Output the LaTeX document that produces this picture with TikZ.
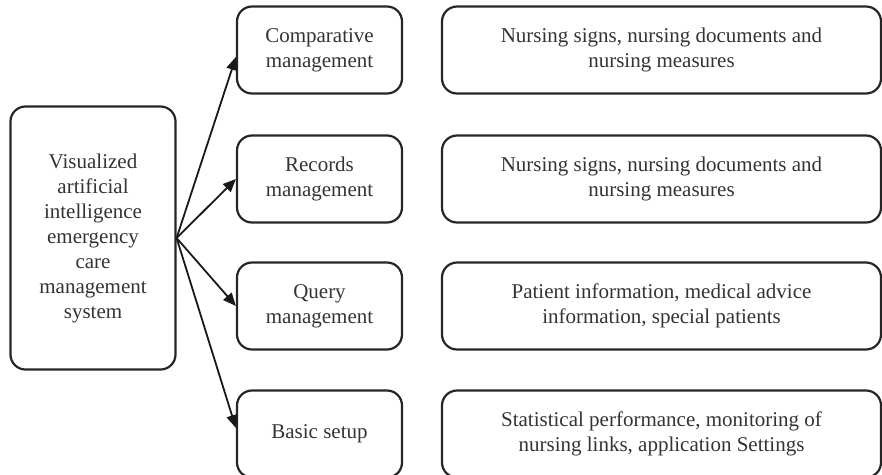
\documentclass[tikz,border=0pt]{standalone}
\usepackage{fontspec}
\setmainfont{Liberation Serif}
\usetikzlibrary{arrows.meta,positioning}
\begin{document}
\begin{tikzpicture}[x=1pt,y=-1pt,
  box/.style={draw=black!85,line width=2.2pt,rounded corners=15pt,align=center,
    font=\fontsize{21}{25}\selectfont,text=black!80,inner sep=0pt},
  arr/.style={-{Triangle[length=13pt,width=11pt]},line width=1.8pt,black!90}]
\useasboundingbox (0,0) rectangle (882,474);
\node[box,minimum width=165pt,minimum height=263pt] (L) at (93,238)
  {Visualized\\artificial\\intelligence\\emergency\\care\\management\\system};
\foreach \i/\y/\t in {1/50/{Comparative\\management},2/179/{Records\\management},3/306/{Query\\management},4/434/{Basic setup}}{
  \node[box,minimum width=165pt,minimum height=87pt] (m\i) at (319.5,\y) {\t};
}
\node[box,minimum width=439pt,minimum height=87pt] (r1) at (661.5,50) {Nursing signs, nursing documents and\\nursing measures};
\node[box,minimum width=439pt,minimum height=87pt] (r2) at (661.5,179) {Nursing signs, nursing documents and\\nursing measures};
\node[box,minimum width=439pt,minimum height=87pt] (r3) at (661.5,306) {Patient information, medical advice\\information, special patients};
\node[box,minimum width=439pt,minimum height=87pt] (r4) at (661.5,434) {Statistical performance, monitoring of\\nursing links, application Settings};
\coordinate (o) at (L.east);
\draw[arr] (o) -- ([yshift=-7pt]m1.west);
\draw[arr] (o) -- (m2.west);
\draw[arr] (o) -- (m3.west);
\draw[arr] (o) -- ([yshift=6pt]m4.west);
\end{tikzpicture}
\end{document}
